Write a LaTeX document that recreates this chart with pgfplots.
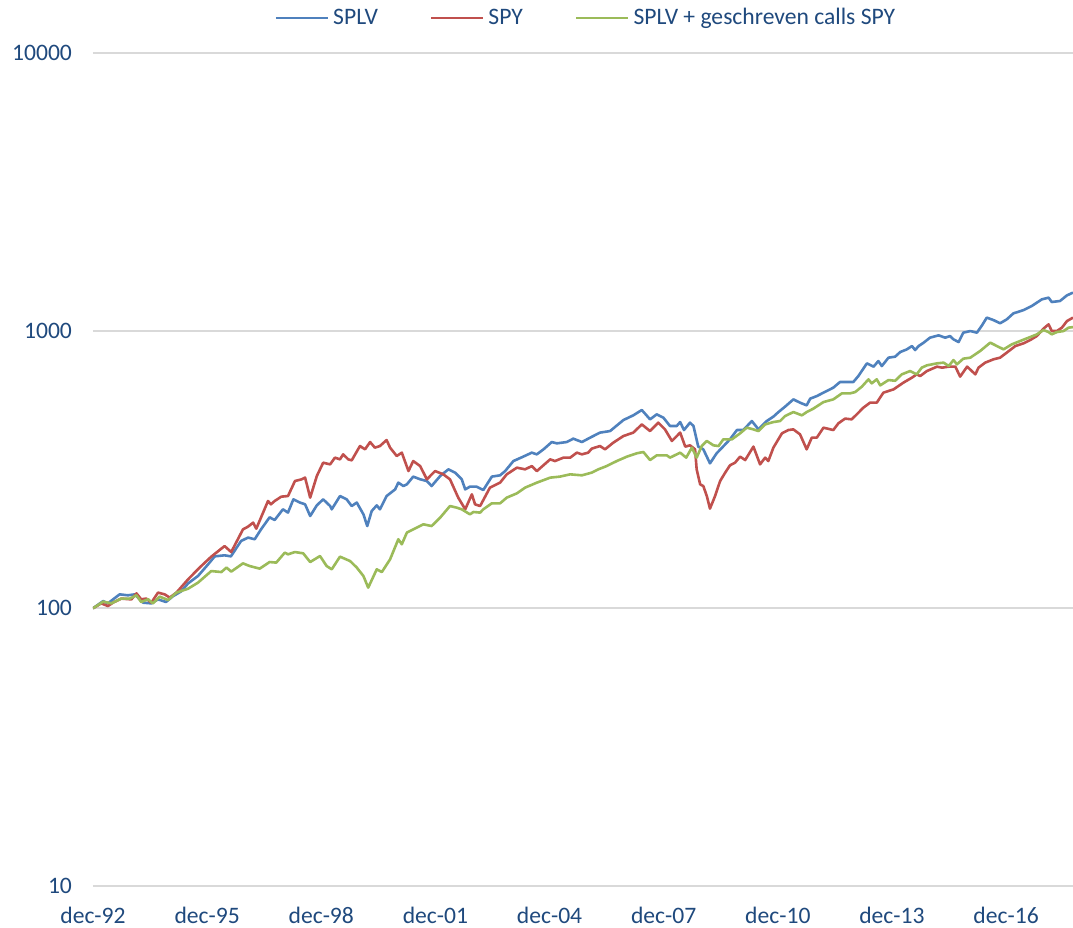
\documentclass[border=0pt]{standalone}
\usepackage{fontspec}
\setmainfont{Carlito}
\usepackage{pgfplots}
\pgfplotsset{compat=1.18}
\usepackage{pgfplotstable}
\definecolor{cblue}{HTML}{4F81BD}
\definecolor{cred}{HTML}{C0504D}
\definecolor{cgreen}{HTML}{9BBB59}
\definecolor{ctext}{HTML}{1F497D}
\definecolor{cgrid}{HTML}{D9D9D9}

\pgfplotstableread{
m v
0 100
3.2 106.2
4.7 104.2
8.4 112.3
11.0 111.4
13.2 112.3
15.8 104.8
18.4 104.2
20.5 107.7
23.0 105.4
25.2 110.5
27.8 115.1
30.0 123.0
33.1 130.7
36.3 144.0
38.4 153.9
41.5 155.2
43.5 153.9
46.7 174.8
48.9 179.8
51.0 177.3
53.0 192.5
55.7 212.7
57.3 208.0
59.9 227.3
61.5 221.2
63.2 246.9
65.3 240.3
66.9 236.9
68.5 215.0
70.6 234.9
72.6 246.9
74.8 233.6
75.3 227.3
77.9 253.7
80.0 246.9
81.6 233.6
83.2 240.3
85.3 218.0
86.5 197.9
87.9 224.0
89.5 234.9
90.5 227.3
92.6 253.7
95.3 268.2
96.3 283.6
97.9 275.7
99.0 279.6
101.0 298.1
103.2 291.5
105.3 287.4
106.8 275.7
109.5 299.6
112.1 316.7
114.2 308.1
116.3 291.5
117.4 268.2
118.9 274.3
121.0 274.3
123.1 266.7
125.8 298.1
128.4 301.3
130.0 312.2
132.6 339.2
135.7 351.8
138.4 363.7
140.0 358.6
142.1 373.8
144.7 397.1
146.3 392.8
149.4 397.1
151.5 408.4
154.2 397.1
156.8 411.8
159.9 429.3
163.1 435.0
167.3 476.5
170.4 495.5
173.1 517.8
175.7 479.3
177.8 499.6
179.9 486.1
182.0 453.4
184.1 453.4
185.2 468.7
186.4 438.6
188.3 466.3
189.4 453.4
190.9 382.3
192.5 373.8
194.6 332.8
196.7 361.7
199.4 389.5
200.9 406.0
203.1 438.6
205.1 438.6
207.8 472.6
209.9 441.1
212.5 472.6
214.6 490.2
216.2 509.2
218.3 532.6
220.9 565.6
223.0 550.4
225.1 538.3
226.2 569.0
228.3 581.4
230.4 598.1
233.5 623.4
235.6 653.1
239.8 653.1
241.4 686.4
244.1 762.6
246.2 742.0
247.7 777.3
248.8 745.8
250.9 799.4
253.0 806.0
254.6 837.5
256.7 856.4
258.3 880.2
259.3 851.5
260.4 880.2
262.0 905.3
264.0 943.6
266.7 961.8
268.8 943.6
270.3 956.3
271.4 930.5
273.0 910.0
274.5 983.6
276.7 996.8
278.8 983.6
280.4 1045
281.9 1114
284.0 1092
286.1 1063
288.2 1098
290.3 1154
293.5 1186
296.1 1227
299.3 1297
301.4 1315
302.4 1268
305.0 1279
307.2 1340
309.1 1371
}\splv

\pgfplotstableread{
m v
0 100
2.6 104.2
4.7 101.9
6.3 104.8
8.9 108.4
12.1 107.7
13.7 113.2
15.2 107.8
16.8 108.4
18.4 104.8
20.5 113.9
22.6 112.3
24.2 109.3
26.3 113.9
30.0 127.2
33.1 138.2
34.7 144.0
37.3 153.5
41.5 167.6
43.6 159.5
47.3 192.5
48.9 196.9
50.5 203.5
51.5 193.6
55.2 243.5
56.1 236.9
57.3 243.5
59.4 252.5
61.5 253.7
63.7 287.4
65.8 291.5
66.9 295.6
68.5 250.4
70.6 299.6
72.6 334.6
74.8 330.0
76.3 348.9
77.9 344.0
78.9 358.6
80.5 344.0
81.6 341.2
84.2 384.2
85.8 373.8
87.4 397.1
88.9 379.1
90.5 384.2
92.6 403.7
93.7 379.1
95.8 353.6
97.4 363.7
99.5 312.2
101.0 339.2
103.2 325.3
105.3 291.5
107.9 312.2
110.5 303.8
112.6 291.5
115.2 250.4
117.4 227.3
119.5 257.4
120.5 236.9
122.1 233.6
125.2 272.1
128.4 283.6
130.5 303.8
133.7 321.1
136.3 316.7
138.4 325.3
140.0 312.2
144.2 344.0
145.7 339.2
148.4 348.9
150.5 348.9
152.6 363.7
154.2 358.6
156.2 363.7
157.3 375.9
159.9 384.2
161.5 373.8
164.1 395.1
167.3 417.4
170.4 429.3
173.1 459.5
175.7 435.0
178.3 466.3
180.4 441.1
182.6 400.6
185.2 429.3
186.8 382.3
188.3 386.4
189.9 373.8
190.4 316.7
191.5 279.6
192.5 275.7
193.6 253.7
194.6 228.6
196.2 253.7
197.8 287.4
199.4 308.1
200.9 327.3
202.5 334.6
204.1 351.8
205.7 342.0
208.3 382.3
210.4 330.0
212.0 348.9
213.0 339.2
214.6 379.1
217.3 426.8
219.3 438.6
220.9 441.1
223.0 423.3
225.1 373.8
226.7 411.8
228.3 411.8
230.4 447.3
233.5 438.6
235.1 463.7
237.2 482.2
239.3 479.3
240.9 499.6
243.0 528.2
245.1 550.4
247.2 550.4
249.3 598.1
252.5 614.6
255.6 649.8
258.3 677.3
259.8 696.2
260.9 686.4
263.0 715.3
266.2 742.0
267.8 735.9
269.9 742.0
272.0 742.0
273.5 683.0
275.7 742.0
278.3 696.2
279.3 735.9
281.4 767.0
284.0 788.3
286.1 799.4
288.2 833.3
290.9 880.2
293.5 900.1
295.6 925.1
297.7 956.3
299.8 1017
301.4 1054
302.4 996.8
304.0 996.8
305.6 1025
307.2 1083
309.1 1114
}\spy

\pgfplotstableread{
m v
0 100
3.2 105.7
5.8 104.2
8.9 108.4
11.6 108.4
13.7 111.4
15.2 105.4
17.4 107.8
18.9 104.2
21.0 110.2
23.7 107.1
26.3 113.9
30.0 117.7
33.1 123.7
37.3 136.2
40.5 135.1
42.1 140.2
43.6 135.6
47.3 145.2
49.4 142.0
52.6 139.0
55.7 146.8
57.8 146.1
60.5 158.7
61.5 156.5
63.7 159.5
66.3 157.8
68.5 146.8
71.6 154.3
73.7 142.0
75.3 138.2
77.9 153.5
81.1 148.0
83.2 140.2
85.3 130.7
86.8 118.7
89.5 138.2
91.1 135.1
93.7 150.1
96.3 177.3
97.4 170.1
99.0 187.4
101.0 192.5
104.2 200.7
106.8 197.9
109.5 212.2
112.6 233.6
114.7 230.5
116.3 227.3
118.9 218.0
120.0 222.3
122.1 221.2
123.1 227.3
125.8 238.9
128.4 238.9
130.5 250.4
133.7 259.5
136.3 272.1
140.0 283.6
144.2 295.6
147.3 298.1
150.5 303.8
154.2 301.3
157.3 308.1
159.4 316.7
162.0 325.3
165.2 339.2
168.4 351.8
171.5 361.7
173.6 365.6
175.7 342.0
177.8 355.6
181.0 355.6
182.0 348.9
185.2 363.7
187.1 348.9
188.9 379.1
190.4 348.9
192.0 384.2
193.6 400.6
195.7 386.4
197.3 384.2
198.8 406.0
201.5 406.0
204.1 426.8
206.2 447.3
208.3 441.1
209.9 435.0
212.0 459.5
214.6 468.7
216.7 472.6
218.3 492.7
220.9 509.2
223.6 495.5
225.1 509.2
227.2 523.8
230.4 553.2
233.5 565.6
236.2 594.5
238.8 594.5
240.4 601.0
242.5 628.6
244.6 667.9
245.6 646.0
247.2 667.9
248.3 635.3
250.9 663.9
253.0 660.1
255.1 696.2
257.7 715.3
259.8 696.2
261.4 735.9
263.0 750.1
266.2 762.6
268.3 767.0
269.9 745.8
271.4 783.8
272.5 756.4
274.5 792.9
276.7 799.4
279.8 844.5
283.0 905.3
285.1 880.2
287.2 856.4
289.8 892.7
292.4 917.5
295.1 943.6
297.7 969.8
299.8 1005
301.4 988.5
302.4 969.8
304.0 988.5
306.1 996.8
307.7 1025
309.1 1030
}\calls

\begin{document}
\begin{tikzpicture}
\begin{axis}[
  at={(0,0)}, anchor=south west,
  scale only axis,
  width=490pt, height=416.5pt,
  xmin=0, xmax=309.1,
  ymode=log, ymin=10, ymax=10000,
  ytick={10,100,1000,10000},
  yticklabels={10,100,1000,10000},
  xtick={0,36,72,108,144,180,216,252,288},
  xticklabels={dec-92,dec-95,dec-98,dec-01,dec-04,dec-07,dec-10,dec-13,dec-16},
  minor ytick={},
  ymajorgrids,
  major grid style={cgrid, line width=0.9pt},
  axis line style={draw=none},
  tick style={draw=none},
  ticklabel style={font=\fontsize{11.8}{14}\selectfont, text=ctext},
  yticklabel style={xshift=-7pt},
  xticklabel style={yshift=-7pt},
  legend columns=3,
  legend style={at={(0.504,1.042)}, anchor=center, draw=none, fill=none,
    font=\fontsize{11.8}{14}\selectfont, text=ctext,
    /tikz/every even column/.append style={column sep=24pt}},
  legend image code/.code={\draw[#1] (0pt,0pt) -- (26pt,0pt);},
  every axis plot/.append style={line width=1.3pt, line join=round},
]
\addplot[cblue, mark=none] table[x=m, y=v] {\splv};
\addlegendentry{SPLV}
\addplot[cred, mark=none] table[x=m, y=v] {\spy};
\addlegendentry{SPY}
\addplot[cgreen, mark=none] table[x=m, y=v] {\calls};
\addlegendentry{SPLV + geschreven calls SPY}
\end{axis}
\pgfresetboundingbox
\path[use as bounding box] (-46.5pt,-21pt) rectangle (490pt,443pt);
\end{tikzpicture}
\end{document}
